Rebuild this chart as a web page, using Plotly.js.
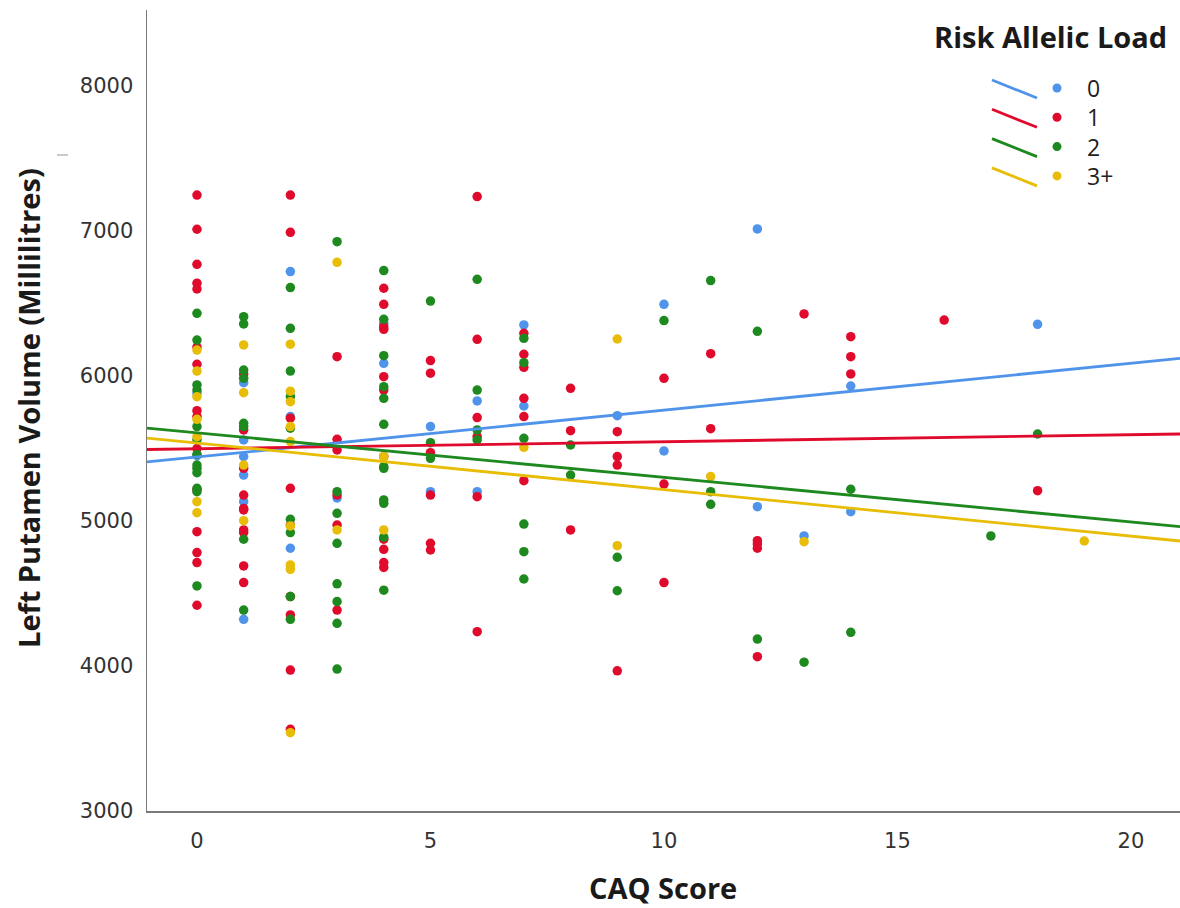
<!DOCTYPE html>
<html>
<head>
<meta charset="utf-8">
<script src="https://cdn.plot.ly/plotly-3.0.1.min.js"></script>
<style>
  html, body { margin: 0; padding: 0; background: #fff; }
  #chart { width: 1180px; height: 908px; }
</style>
</head>
<body>
<div id="chart"></div>
<script>
// ---- Data (CAQ score, left putamen volume) ----
const groupNames = ['0', '1', '2', '3+'];

const load0 = [
  [0,5880],[0,5450],
  [1,5954],[1,5559],[1,5444],[1,5317],[1,5133],[1,4322],
  [2,6720],[2,5720],[2,4812],
  [3,5159],
  [4,6363],[4,6087],
  [5,5651],[5,5202],
  [6,5828],[6,5202],
  [7,6352],[7,5793],
  [9,5726],
  [10,6494],[10,5483],
  [12,7014],[12,5099],
  [13,4897],
  [14,5931],[14,5064],
  [18,6356]
];

const load1 = [
  [0,7248],[0,7012],[0,6770],[0,6640],[0,6600],[0,6200],[0,6081],[0,5761],[0,5720],[0,5500],[0,5215],[0,4926],[0,4782],[0,4713],[0,4419],
  [1,6014],[1,5628],[1,5363],[1,5179],[1,5087],[1,5076],[1,4938],[1,4920],[1,4690],[1,4575],
  [2,7248],[2,6991],[2,5709],[2,5225],[2,4972],[2,4479],[2,4352],[2,3972],[2,3563],
  [3,6133],[3,5563],[3,5490],[3,5179],[3,4972],[3,4386],
  [4,6605],[4,6494],[4,6340],[4,6322],[4,5995],[4,5903],[4,5444],[4,4874],[4,4805],[4,4713],[4,4680],
  [5,6106],[5,6019],[5,5471],[5,5179],[5,4846],[5,4800],
  [6,7237],[6,6253],[6,5713],[6,5582],[6,5168],[6,4237],
  [7,6294],[7,6150],[7,6060],[7,5846],[7,5720],[7,5278],
  [8,5915],[8,5623],[8,4938],
  [9,5616],[9,5444],[9,5386],[9,3967],
  [10,5984],[10,5255],[10,4575],
  [11,6154],[11,5637],
  [12,4864],[12,4841],[12,4812],[12,4064],
  [13,6428],
  [14,6271],[14,6133],[14,6014],
  [16,6386],
  [18,5209]
];

const load2 = [
  [0,6432],[0,6248],[0,5938],[0,5903],[0,5651],[0,5560],[0,5460],[0,5386],[0,5363],[0,5333],[0,5225],[0,5202],[0,4552],
  [1,6409],[1,6359],[1,6041],[1,5984],[1,5674],[1,5651],[1,4874],[1,4386],
  [2,6610],[2,6329],[2,6034],[2,5857],[2,5640],[2,5012],[2,4920],[2,4479],[2,4322],
  [3,6926],[3,5202],[3,5053],[3,4846],[3,4567],[3,4444],[3,4294],[3,3979],
  [4,6727],[4,6391],[4,6140],[4,5926],[4,5846],[4,5667],[4,5375],[4,5363],[4,5145],[4,5122],[4,4888],[4,4523],
  [5,6517],[5,5540],[5,5432],
  [6,6667],[6,5903],[6,5628],[6,5559],
  [7,6260],[7,6092],[7,5570],[7,4979],[7,4788],[7,4600],
  [8,5524],[8,5317],
  [9,4750],[9,4519],
  [10,6382],
  [11,6658],[11,5202],[11,5115],
  [12,6308],[12,4186],
  [13,4026],
  [14,5219],[14,4232],
  [17,4897],
  [18,5600]
];

const load3 = [
  [0,6179],[0,6034],[0,5857],[0,5701],[0,5582],[0,5133],[0,5057],
  [1,6214],[1,5885],[1,5386],[1,5002],
  [2,6219],[2,5895],[2,5823],[2,5651],[2,5548],[2,4966],[2,4697],[2,4667],[2,3540],
  [3,6784],[3,4938],
  [4,5444],[4,4938],
  [7,5508],
  [9,6255],[9,4830],
  [11,5306],
  [13,4857],
  [19,4862]
];

// Fitted regression lines (values at the left and right ends of the x range)
const fitX = [-1.07, 21.05];
const fit0 = [5407, 6122];
const fit1 = [5493, 5600];
const fit2 = [5641, 4961];
const fit3 = [5572, 4862];

const xTicks = [0, 5, 10, 15, 20];
const yTicks = [3000, 4000, 5000, 6000, 7000, 8000];

// ---- Styling ----
const colors = ['#4f94ea', '#e00b2c', '#1e891f', '#e8bd07'];
const groups = [load0, load1, load2, load3];
const fits = [fit0, fit1, fit2, fit3];

const traces = [];
groups.forEach((g, i) => {
  traces.push({
    type: 'scatter', mode: 'markers', name: groupNames[i],
    x: g.map(p => p[0]), y: g.map(p => p[1]),
    marker: { color: colors[i], size: 9.5 },
    showlegend: false, hoverinfo: 'x+y'
  });
});
fits.forEach((f, i) => {
  traces.push({
    type: 'scatter', mode: 'lines', name: groupNames[i] + ' fit',
    x: fitX, y: f,
    line: { color: colors[i], width: 2.8 },
    showlegend: false, hoverinfo: 'skip'
  });
});

// plot area geometry in pixels
const W = 1180, H = 908;
const mL = 147, mR = 0, mT = 10, mB = 97;
const pw = W - mL - mR, ph = H - mT - mB;
const px = x => (x - mL) / pw;
const py = y => (H - mB - y) / ph;

const shapes = [];
const annotations = [];

// custom legend
annotations.push({
  xref: 'paper', yref: 'paper', x: px(1050), y: py(37),
  xanchor: 'center', yanchor: 'middle', showarrow: false,
  text: '<b>Risk Allelic Load</b>',
  font: { family: 'Open Sans, sans-serif', size: 29, color: '#1a1a1a' }
});
groupNames.forEach((n, i) => {
  const yc = 88 + i * 29.3;
  shapes.push({
    type: 'line', xref: 'paper', yref: 'paper',
    x0: px(992), y0: py(yc - 8), x1: px(1037), y1: py(yc + 10),
    line: { color: colors[i], width: 2.8 }
  });
  shapes.push({
    type: 'circle', xref: 'paper', yref: 'paper',
    xsizemode: 'pixel', ysizemode: 'pixel',
    xanchor: px(1057), yanchor: py(yc),
    x0: -4.5, x1: 4.5, y0: -4.5, y1: 4.5,
    fillcolor: colors[i], line: { width: 0 }
  });
  annotations.push({
    xref: 'paper', yref: 'paper', x: px(1085), y: py(yc),
    xanchor: 'left', yanchor: 'middle', showarrow: false,
    text: n, font: { family: 'Open Sans, sans-serif', size: 23, color: '#222' }
  });
});

// axis titles
annotations.push({
  xref: 'paper', yref: 'paper', x: px(663), y: py(887),
  xanchor: 'center', yanchor: 'middle', showarrow: false,
  text: '<b>CAQ Score</b>',
  font: { family: 'Open Sans, sans-serif', size: 29, color: '#1a1a1a' }
});
annotations.push({
  xref: 'paper', yref: 'paper', x: px(28), y: py(408),
  xanchor: 'center', yanchor: 'middle', showarrow: false, textangle: -90,
  text: '<b>Left Putamen Volume (Millilitres)</b>',
  font: { family: 'Open Sans, sans-serif', size: 29, color: '#1a1a1a' }
});

// small stray grey tick seen at upper left of the reference
shapes.push({
  type: 'line', xref: 'paper', yref: 'paper',
  x0: px(57), x1: px(68), y0: py(155), y1: py(155),
  line: { color: '#b8b8b8', width: 1.5 }
});

const layout = {
  width: W, height: H,
  margin: { l: mL, r: mR, t: mT, b: mB, pad: 0 },
  paper_bgcolor: '#ffffff', plot_bgcolor: '#ffffff',
  showlegend: false,
  xaxis: {
    range: [fitX[0], fitX[1]],
    tickvals: xTicks, ticktext: xTicks.map(String),
    showgrid: false, zeroline: false,
    showline: true, linecolor: '#7a7a7a', linewidth: 1.5,
    ticks: 'outside', ticklen: 10, tickcolor: 'rgba(0,0,0,0)',
    tickfont: { family: 'DejaVu Sans, sans-serif', size: 21, color: '#333' }
  },
  yaxis: {
    range: [3000, 8524],
    tickvals: yTicks, ticktext: yTicks.map(String),
    showgrid: false, zeroline: false,
    showline: true, linecolor: '#7a7a7a', linewidth: 1.5,
    ticks: 'outside', ticklen: 8, tickcolor: 'rgba(0,0,0,0)',
    tickfont: { family: 'DejaVu Sans, sans-serif', size: 21, color: '#333' }
  },
  shapes: shapes,
  annotations: annotations
};

Plotly.newPlot('chart', traces, layout, { displayModeBar: false, staticPlot: true });
</script>
</body>
</html>
